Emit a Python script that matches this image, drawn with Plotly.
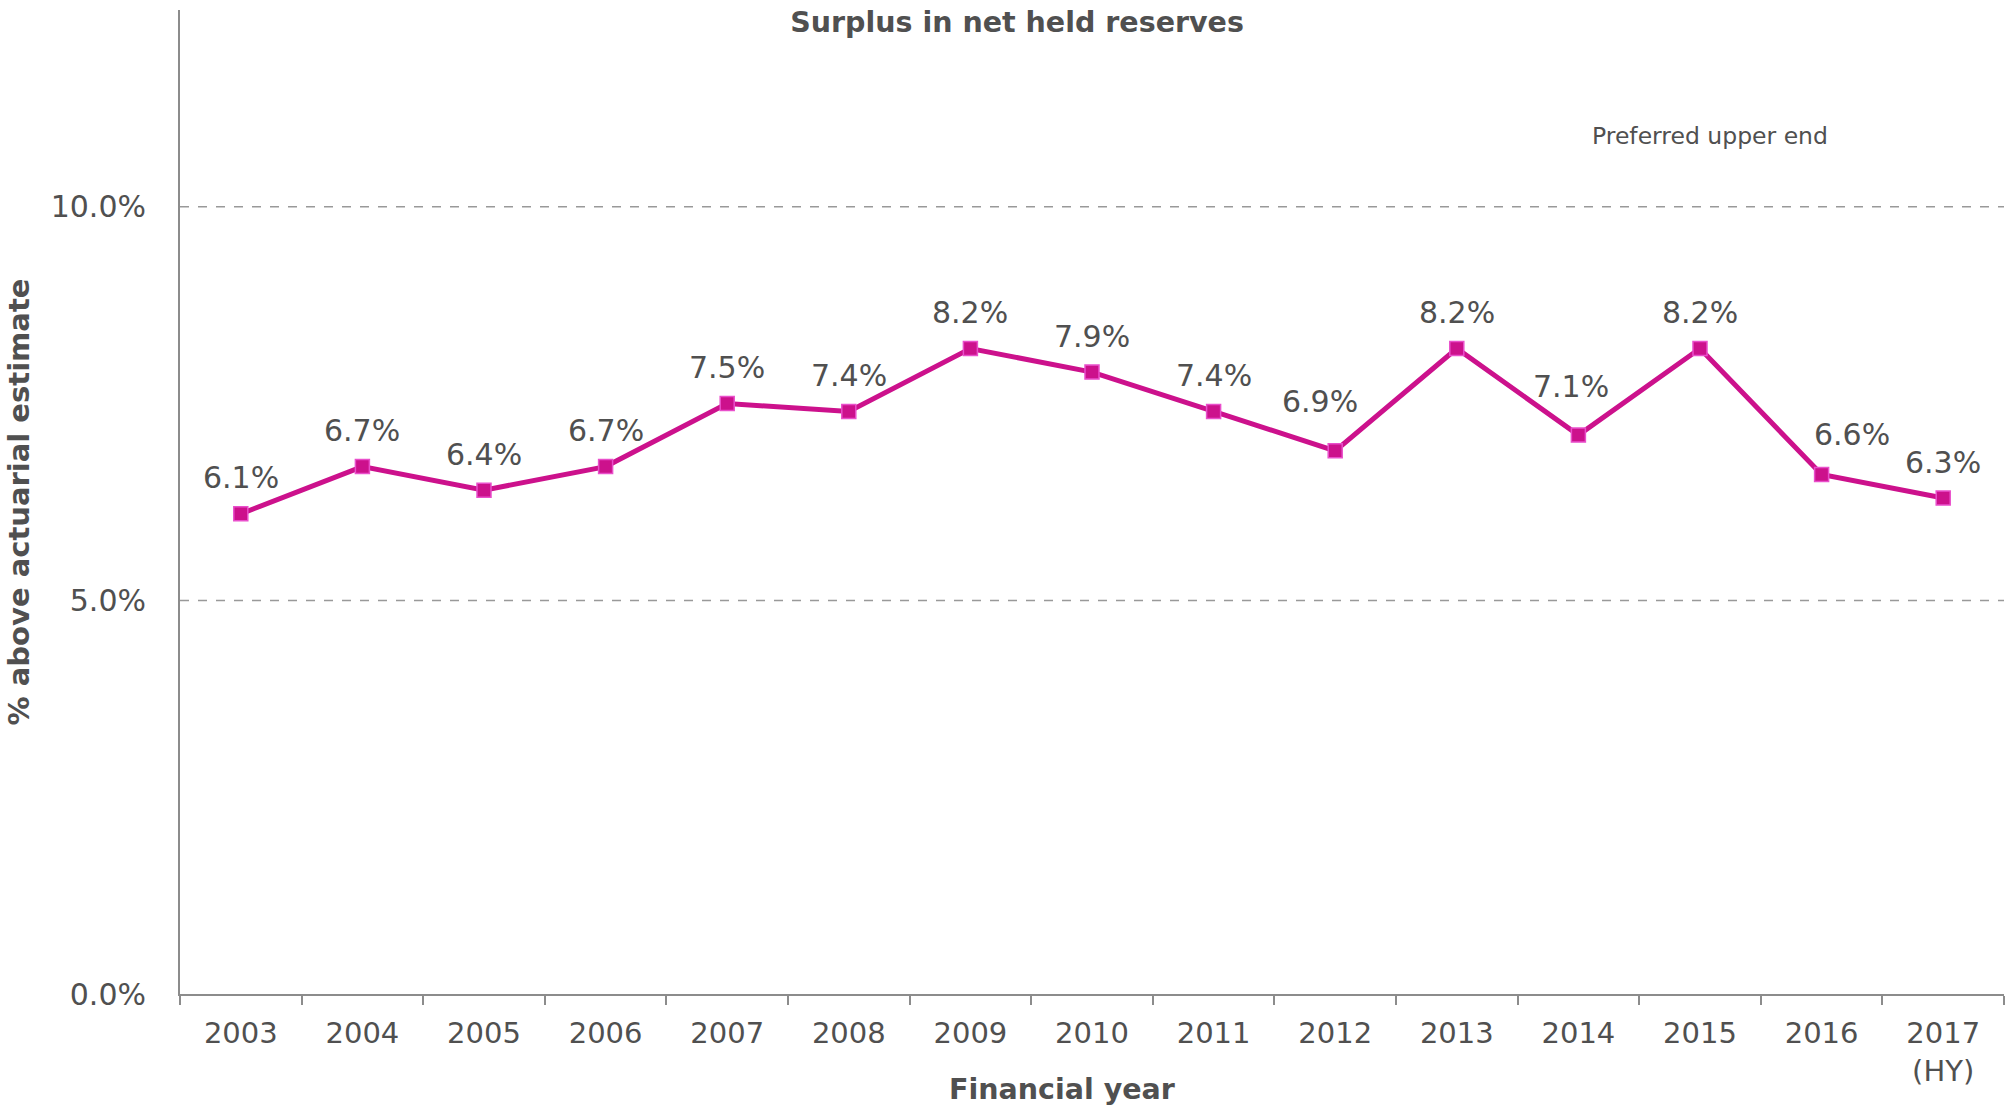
import plotly.graph_objects as go

years = ["2003", "2004", "2005", "2006", "2007", "2008", "2009", "2010",
         "2011", "2012", "2013", "2014", "2015", "2016", "2017<br>(HY)"]
surplus_pct = [6.1, 6.7, 6.4, 6.7, 7.5, 7.4, 8.2, 7.9, 7.4, 6.9, 8.2, 7.1, 8.2, 6.6, 6.3]
gridlines = [5.0, 10.0]

TEXT = "#505050"
AX = "#8c8c8c"
MAG = "#CC118C"
FONT = "DejaVu Sans"

# label nudges (pixels) for a few data labels that sit off-centre in the original
label_nudge = {9: (-15, 49), 11: (-7, 49), 13: (30, 40)}

fig = go.Figure()
fig.add_trace(go.Scatter(
    x=years, y=surplus_pct, mode="lines+markers",
    line=dict(color=MAG, width=5),
    marker=dict(symbol="square", size=14, color=MAG, line=dict(color="#E94FCB", width=1.5)),
    cliponaxis=False, showlegend=False,
))

for i, yv in enumerate(surplus_pct):
    dx, dy = label_nudge.get(i, (0, 36))
    fig.add_annotation(x=i, y=yv, xref="x", yref="y", text=f"{yv:.1f}%",
                       showarrow=False, yanchor="middle", yshift=dy, xshift=dx,
                       font=dict(family=FONT, size=30, color=TEXT))

for g in gridlines:
    fig.add_shape(type="line", xref="paper", x0=0, x1=1, yref="y", y0=g, y1=g,
                  line=dict(color="#999999", width=1.5, dash="dash"), layer="below")

fig.add_annotation(text="Preferred upper end", xref="paper", x=0.839, xanchor="center",
                   yref="y", y=10.9, yanchor="middle", showarrow=False,
                   font=dict(family=FONT, size=23.5, color=TEXT))

fig.add_annotation(text="<b>Financial year</b>", xref="paper", x=0.4836, xanchor="center",
                   yref="paper", y=-0.097, yanchor="middle", showarrow=False,
                   font=dict(family=FONT, size=28.5, color=TEXT))

fig.update_layout(
    width=2014, height=1107, paper_bgcolor="white", plot_bgcolor="white",
    margin=dict(l=180, r=10, t=10, b=113),
    title=dict(text="<b>Surplus in net held reserves</b>", x=0.505, xanchor="center",
               y=0.989, yanchor="top",
               font=dict(family=FONT, size=28.5, color=TEXT)),
    xaxis=dict(type="category", range=[-0.5, 14.5], showgrid=False,
               showline=True, linecolor=AX, linewidth=2,
               ticks="outside", tickson="boundaries", ticklen=9, tickcolor=AX, tickwidth=1.5,
               ticklabelstandoff=12,
               tickfont=dict(family=FONT, size=29, color=TEXT)),
    yaxis=dict(range=[0, 12.5], tickvals=[0, 5, 10], ticktext=["0.0%", "5.0%", "10.0%"],
               showgrid=False, zeroline=False, showline=True, linecolor=AX, linewidth=2,
               ticks="", ticklabelstandoff=26,
               tickfont=dict(family=FONT, size=30, color=TEXT),
               title=dict(text="<b>% above actuarial estimate</b>", standoff=13,
                          font=dict(family=FONT, size=29, color=TEXT))),
)

fig.write_html("out.html")
